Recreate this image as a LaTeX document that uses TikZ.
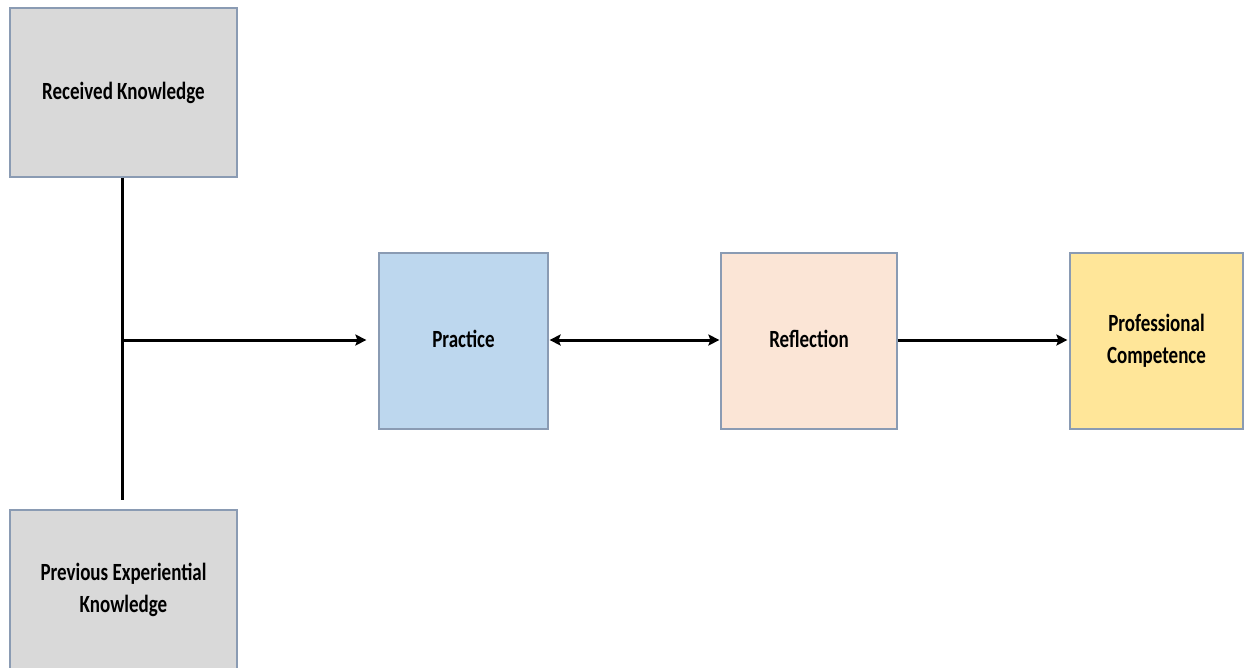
\documentclass[tikz,border=0pt]{standalone}
\usepackage{fontspec}
\setmainfont{Carlito}
\usetikzlibrary{arrows.meta}
\definecolor{boxedge}{HTML}{8A9BB3}
\definecolor{greyfill}{HTML}{D9D9D9}
\definecolor{bluefill}{HTML}{BDD7EE}
\definecolor{peachfill}{HTML}{FBE5D6}
\definecolor{yellowfill}{HTML}{FFE699}
\newcommand{\lbl}[1]{\scalebox{1}[1.3]{\begin{tabular}{@{}c@{}}#1\end{tabular}}}
\tikzset{
  box/.style={draw=boxedge, line width=1.2pt, rectangle, inner sep=0pt,
    font=\fontsize{19}{25}\selectfont\bfseries, text=black},
  conn/.style={line width=3pt, draw=black},
  tip/.style={-{Stealth[length=11pt,width=11pt,inset=2pt]}},
}
\begin{document}
\begin{tikzpicture}[x=1pt,y=-1pt]
\useasboundingbox (0,0) rectangle (1245,667);
\clip (0,0) rectangle (1245,667);
\fill[white] (0,0) rectangle (1245,667);
\node[box, fill=greyfill, minimum width=227pt, minimum height=169pt] (rk) at (123.5,92.5) {\lbl{Received Knowledge}};
\node[box, fill=greyfill, minimum width=227pt, minimum height=160pt] (pek) at (123.5,590) {\lbl{Previous Experiential\\Knowledge}};
\node[box, fill=bluefill, minimum width=169pt, minimum height=176pt] (pr) at (463.5,341) {\lbl{Practice}};
\node[box, fill=peachfill, minimum width=176pt, minimum height=176pt] (rf) at (809,341) {\lbl{Reflection}};
\node[box, fill=yellowfill, minimum width=173pt, minimum height=176pt] (pc) at (1156.5,341) {\lbl{Professional\\Competence}};
\coordinate (vend) at (122,500);
\coordinate (junc) at (122,340);
\draw[conn] (rk.south -| vend) -- (vend);
\draw[conn, tip, shorten >=12pt] (junc) -- (junc -| pr.west);
\draw[conn, {Stealth[length=11pt,width=11pt,inset=2pt]}-{Stealth[length=11pt,width=11pt,inset=2pt]}, shorten <=1pt, shorten >=1pt] (pr.east |- junc) -- (rf.west |- junc);
\draw[conn, tip, shorten >=2pt] (rf.east |- junc) -- (pc.west |- junc);
\end{tikzpicture}
\end{document}
